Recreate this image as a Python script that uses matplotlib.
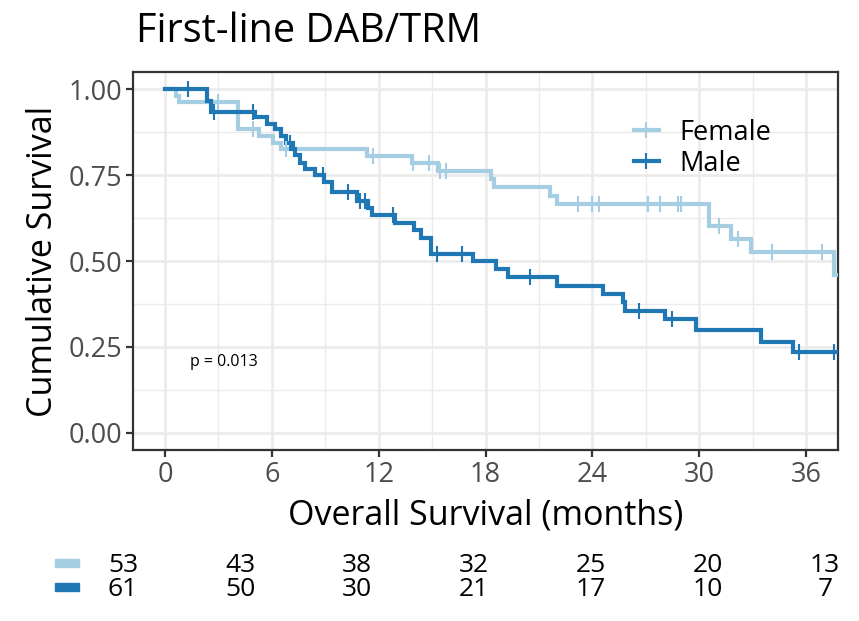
import numpy as np
import matplotlib
matplotlib.use("Agg")
import matplotlib.pyplot as plt
from matplotlib.patches import Rectangle
from matplotlib.lines import Line2D

plt.rcParams['font.family'] = ['Open Sans', 'DejaVu Sans']

# ---------------- data ----------------
groups = ["Female", "Male"]
colors = ["#A6CEE3", "#1F78B4"]

female_event_times = [0.64, 0.8, 4.1, 5.3, 6.07, 6.54, 11.32, 13.85, 15.32, 18.3, 18.45,
                      21.6, 22.0, 30.58, 31.8, 32.9, 37.6]
female_surv = [0.981, 0.962, 0.883, 0.863, 0.844, 0.825, 0.805, 0.784, 0.762, 0.738, 0.715,
               0.689, 0.665, 0.602, 0.563, 0.526, 0.46]
female_censor = [2.95, 4.95, 6.8, 11.7, 13.9, 14.85, 15.45, 15.8, 23.2, 24.0, 24.4, 27.1,
                 27.8, 28.8, 29.0, 31.1, 32.2, 34.07, 36.9]

male_event_times = [2.35, 2.6, 5.04, 5.7, 6.17, 6.5, 6.77, 7.2, 7.3, 7.57, 7.86, 8.42, 8.94,
                    9.36, 10.76, 11.38, 11.6, 12.92, 14.0, 14.38, 14.94, 17.3, 18.58, 19.25,
                    22.0, 24.58, 25.7, 25.85, 28.1, 29.83, 33.45, 35.3]
male_surv = [0.967, 0.934, 0.918, 0.899, 0.883, 0.863, 0.844, 0.825, 0.808, 0.786, 0.769,
             0.750, 0.730, 0.700, 0.675, 0.655, 0.633, 0.611, 0.589, 0.566, 0.521, 0.500,
             0.476, 0.452, 0.427, 0.403, 0.380, 0.355, 0.330, 0.298, 0.265, 0.236]
male_censor = [1.3, 2.75, 4.95, 7.0, 8.85, 10.3, 10.95, 11.23, 12.8, 15.3, 16.67, 20.5,
               26.6, 28.5, 35.6, 37.6]

risk_times = [0, 6, 12, 18, 24, 30, 36]
female_at_risk = [53, 43, 38, 32, 25, 20, 13]
male_at_risk = [61, 50, 30, 21, 17, 10, 7]

x_ticks = [0, 6, 12, 18, 24, 30, 36]
y_ticks = [0.00, 0.25, 0.50, 0.75, 1.00]
p_text = "p = 0.013"
title = "First-line DAB/TRM"
xlabel = "Overall Survival (months)"
ylabel = "Cumulative Survival"

# ---------------- figure ----------------
W, H = 859, 621
fig = plt.figure(figsize=(W / 100, H / 100), dpi=100)

L, R, T, B = 133, 838, 72, 450
ax = fig.add_axes([L / W, 1 - B / H, (R - L) / W, (B - T) / H])

XMAX = 37.8
ax.set_xlim(-1.8, XMAX)
ax.set_ylim(-0.05, 1.05)

# grid
grid_c = "#EBEBEB"
for v in np.arange(0, 37, 6):
    ax.axvline(v, color=grid_c, lw=1.9, zorder=0)
for v in np.arange(3, 38, 6):
    ax.axvline(v, color=grid_c, lw=1.0, zorder=0)
for v in np.arange(0, 1.01, 0.25):
    ax.axhline(v, color=grid_c, lw=1.9, zorder=0)
for v in np.arange(0.125, 1.0, 0.25):
    ax.axhline(v, color=grid_c, lw=1.0, zorder=0)


def step_curve(times, surv):
    t = [0.0] + list(times) + [XMAX + 1]
    s = [1.0] + list(surv) + [surv[-1]]
    return t, s


def surv_at(times, surv, t):
    s = 1.0
    for tt, ss in zip(times, surv):
        if tt <= t:
            s = ss
    return s


curves = [(female_event_times, female_surv, female_censor),
          (male_event_times, male_surv, male_censor)]
for (et, sv, cz), col, name in zip(curves, colors, groups):
    t, s = step_curve(et, sv)
    ax.step(t, s, where="post", color=col, lw=3.0, zorder=3, solid_joinstyle="miter")
    cy = [surv_at(et, sv, c) for c in cz]
    ax.plot(cz, cy, ls="none", marker="|", ms=12, mew=1.5, color=col, zorder=4)

ax.text(3.3, 0.205, p_text, fontsize=11.5, ha="center", va="center", color="black")

# axes styling
for sp in ax.spines.values():
    sp.set_color("#333333")
    sp.set_linewidth(1.6)
ax.set_xticks(x_ticks)
ax.set_xticklabels([str(v) for v in x_ticks])
ax.set_yticks(y_ticks)
ax.set_yticklabels([f"{v:.2f}" for v in y_ticks])
ax.tick_params(axis="both", length=5, width=1.6, color="#333333",
               labelsize=19.5, labelcolor="#4D4D4D", pad=3)
ax.set_xlabel(xlabel, fontsize=24.5, color="black", labelpad=7)
ax.set_ylabel(ylabel, fontsize=24.5, color="black", labelpad=6)

# legend
handles = [Line2D([0], [0], color=c, lw=3, marker="|", ms=12, mew=1.5) for c in colors]
ax.legend(handles, groups, loc="upper left", bbox_to_anchor=(620 / W, 1 - 105 / H),
          bbox_transform=fig.transFigure, frameon=False, fontsize=19.5,
          handlelength=0.95, handletextpad=0.75, labelspacing=0.12, borderpad=0)

# title
fig.text(136 / W, 1 - 42 / H, title, fontsize=28.5, ha="left", va="baseline", color="black")

# risk table
tax = fig.add_axes([0, 0, 1, 1], facecolor="none")
tax.set_xlim(-123 / 19.5, (W - 123) / 19.5)
tax.set_ylim(H, 0)
tax.axis("off")
for t_, n in zip(risk_times, female_at_risk):
    tax.text(t_, 566, str(n), fontsize=19, ha="center", va="center", color="black")
for t_, n in zip(risk_times, male_at_risk):
    tax.text(t_, 590, str(n), fontsize=19, ha="center", va="center", color="black")
fig.patches.append(Rectangle((55 / W, 1 - 567 / H), 24 / W, 8 / H, transform=fig.transFigure,
                             color=colors[0], figure=fig))
fig.patches.append(Rectangle((55 / W, 1 - 591 / H), 24 / W, 8 / H, transform=fig.transFigure,
                             color=colors[1], figure=fig))

fig.savefig("out.png", dpi=100)
